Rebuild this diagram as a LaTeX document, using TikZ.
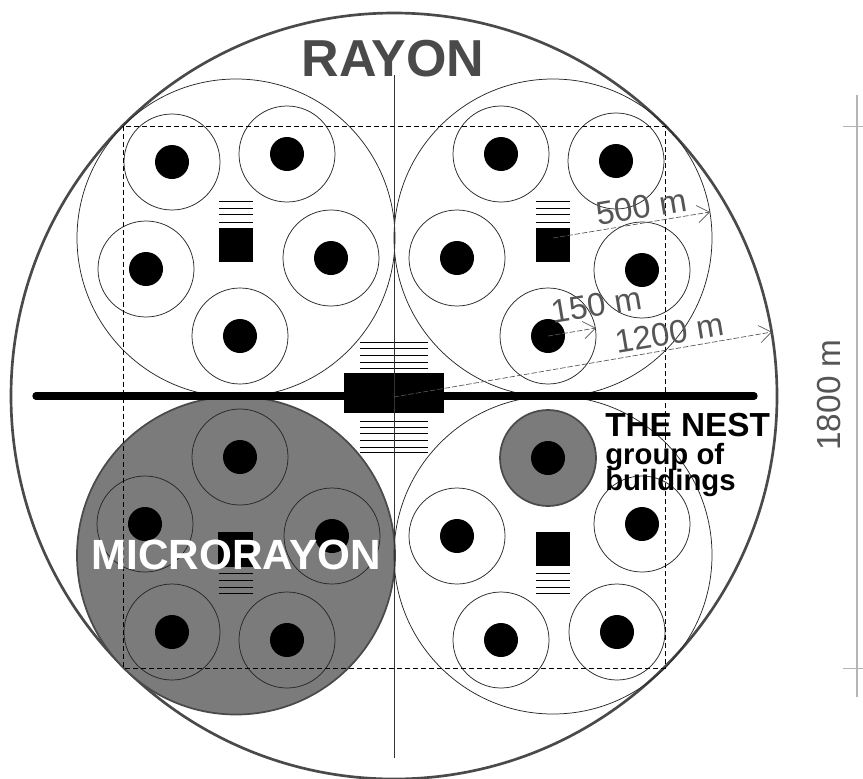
\documentclass[tikz,border=0pt]{standalone}
\usepackage{fontspec}
\setmainfont{Liberation Sans}
\usetikzlibrary{arrows.meta}
\definecolor{RayonGray}{HTML}{4A4A4A}
\definecolor{FillGray}{HTML}{7B7B7B}
\definecolor{DimGray}{HTML}{555555}
\definecolor{TickGray}{HTML}{B4B4B4}

\tikzset{
  thincirc/.style={line width=0.55pt,draw=black!85},
  dimarrow/.style={line width=0.5pt,draw=DimGray,dash pattern=on 4pt off 1.5pt,
    -{Straight Barb[length=9pt,width=13pt,line width=0.5pt]}},
  dimlabel/.style={font=\fontsize{24.6}{24.6}\selectfont,text=DimGray,rotate=9.5,inner sep=0pt},
}

\begin{document}
\begin{tikzpicture}[x=0.75pt,y=-0.75pt]
  \useasboundingbox (0,0) rectangle (863,778);
  \fill[white] (0,0) rectangle (863,778);
  % rayon, microrayons
  \draw[line width=2pt,draw=RayonGray] (394,396) circle (383);
  \fill[FillGray,draw=RayonGray,line width=1.3pt] (236,555.5) circle (159);
  \foreach \cx/\cy in {236/238,553/238,553/555}
    \draw[thincirc] (\cx,\cy) circle (159);
  % the nest
  \fill[FillGray,draw=RayonGray,line width=1.3pt] (548,458) circle (48);
  \foreach \cx/\cy in {172/162,287/154,146/269,331/258,240/336,
                       501/154,616/161,457/258,642/270,548/336,
                       240/457,145/524,332/536,172/632,287/640,
                       457/536,642/524,617/632,501/640}
    \draw[thincirc] (\cx,\cy) circle (48);
  \foreach \cx/\cy in {172/162,287/154,146/269,331/258,240/336,
                       501/154,616/161,457/258,642/270,548/336,
                       240/457,145/524,332/536,172/632,287/640,
                       457/536,642/524,617/632,501/640,548/458}
    \fill (\cx,\cy) circle (17);
  % centres
  \fill (219,228) rectangle (253,262);
  \fill (536,228) rectangle (570,262);
  \fill (218,532) rectangle (253,567);
  \fill (536,532) rectangle (570,566);
  \foreach \yy in {201,208,214,222} {
    \draw[line width=0.7pt] (219,\yy) -- (253,\yy);
    \draw[line width=0.7pt] (536,\yy) -- (570,\yy);
  }
  \foreach \yy in {573,580,587,593} {
    \draw[line width=0.7pt] (219,\yy) -- (253,\yy);
    \draw[line width=0.7pt] (536,\yy) -- (570,\yy);
  }
  % road and rayon centre
  \draw[dash pattern=on 4pt off 2pt,line width=0.55pt] (123,126) rectangle (665,668);
  \draw[line width=5.5pt,line cap=round] (36,396) -- (754,396);
  \fill (344,373) rectangle (444,413);
  \foreach \yy in {342,348,355,362,368,421,427,433,440,447,452}
    \draw[line width=0.7pt] (360,\yy) -- (428,\yy);
  \draw[line width=0.6pt,draw=black!80] (394,75) -- (394,758);
  % radii
  \coordinate (c500) at (553,238);
  \coordinate (e500) at (710,212);
  \coordinate (c150) at (548,336);
  \coordinate (e150) at (596,328);
  \coordinate (c1200) at (394,397);
  \coordinate (e1200) at (772,332);
  \draw[dimarrow] (c500) -- (e500);
  \draw[dimarrow] (c150) -- (e150);
  \draw[dimarrow] (c1200) -- (e1200);
  \node[dimlabel] (l500) at (642,207) {500 m};
  \node[dimlabel] (l150) at (597,305) {150 m};
  \node[dimlabel] (l1200) at (670,333) {1200 m};
  % dimension on the right
  \coordinate (dtop) at (857,95);
  \coordinate (dbot) at (857,697);
  \draw[line width=0.9pt,draw=TickGray] (dtop) -- (dbot);
  \draw[line width=0.6pt,draw=TickGray] (843,126) -- (863,126) (843,668) -- (863,668);
  \node[font=\fontsize{25}{25}\selectfont,text=DimGray,rotate=90,inner sep=0pt] (l1800) at (829,395) {1800 m};
  % titles
  \node[font=\bfseries\fontsize{39}{39}\selectfont,text=RayonGray,inner sep=0pt] (rayon) at (393,59) {RAYON};
  \node[font=\bfseries\fontsize{31.7}{31.7}\selectfont,text=white,inner sep=0pt] (micro) at (236,555) {MICRORAYON};
  \node[font=\bfseries\fontsize{25}{25}\selectfont,anchor=base west,inner sep=0pt] (nest) at (605,436) {THE NEST};
  \node[font=\bfseries\fontsize{22}{22}\selectfont,anchor=base west,inner sep=0pt] (grp) at (605,464) {group of};
  \node[font=\bfseries\fontsize{22}{22}\selectfont,anchor=base west,inner sep=0pt] (bld) at (605,490) {buildings};
\end{tikzpicture}
\end{document}
